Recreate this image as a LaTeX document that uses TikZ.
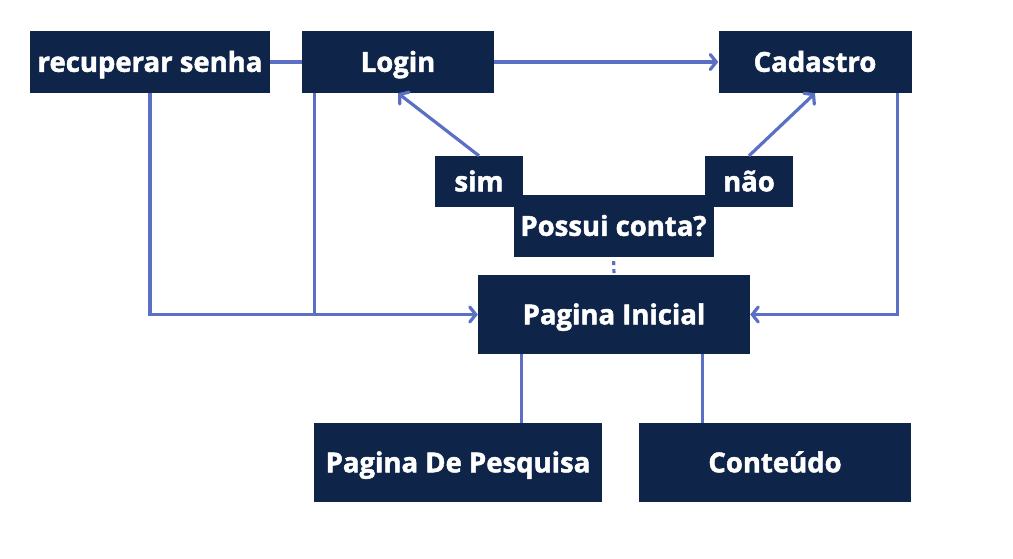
\documentclass[tikz,border=0pt]{standalone}
\usepackage{fontspec}
\setmainfont{Open Sans}[BoldFeatures={FakeBold=1.7}]
\usetikzlibrary{arrows.meta,calc}
\definecolor{navy}{HTML}{0E2448}
\definecolor{conn}{HTML}{5B70C4}
\tikzset{
  box/.style={fill=navy, draw=none, text=white, inner sep=0pt, anchor=center,
    text height=19.6pt, text depth=0pt,
    font=\bfseries\fontsize{27.5}{30}\selectfont},
  link/.style={draw=conn, line width=3.2pt},
  arr/.style={link, -{Straight Barb[length=6pt,width=15pt,line cap=round]}},
}
\begin{document}
\begin{tikzpicture}[x=1pt,y=-1pt]
\useasboundingbox (0,0) rectangle (1013,558);
\node[box, minimum width=240pt, minimum height=62pt] (rec) at (150,62) {recuperar senha};
\node[box, minimum width=192pt, minimum height=62pt] (login) at (398,62) {Login};
\node[box, minimum width=193pt, minimum height=62pt] (cad) at (815,62) {Cadastro};
\node[box, minimum width=200pt, minimum height=62pt] (pc) at (613.5,226) {Possui conta?};
\node[box, minimum width=88pt, minimum height=51pt] (sim) at (479,181.5) {sim};
\node[box, minimum width=88pt, minimum height=51pt] (nao) at (749,181.5) {não};
\node[box, minimum width=272pt, minimum height=79pt] (pi) at (614,314.5) {Pagina Inicial};
\node[box, minimum width=288pt, minimum height=79pt] (pds) at (458,462.5) {Pagina De Pesquisa};
\node[box, minimum width=272pt, minimum height=79pt] (cont) at (775,462.5) {Conteúdo};

\draw[link] (rec.east) -- (login.west);
\draw[arr] (login.east) -- (cad.west);
\draw[arr] (sim.north) -- (login.south);
\draw[arr] (nao.north) -- (cad.south);
\draw[arr] (rec.south) |- (pi.west);
\draw[link] ($(login.south west)+(13,0)$) coordinate (lv) -- (lv |- pi.west);
\draw[arr] ($(cad.south east)+(-14,0)$) |- (pi.east);
\draw[link, dash pattern=on 4pt off 4pt, dash phase=4pt] (pc.south) -- (pi.north);
\draw[link] ($(pi.south west)+(44,0)$) coordinate (pv1) -- (pv1 |- pds.north);
\draw[link] ($(pi.south east)+(-48,0)$) coordinate (pv2) -- (pv2 |- cont.north);
\end{tikzpicture}
\end{document}
